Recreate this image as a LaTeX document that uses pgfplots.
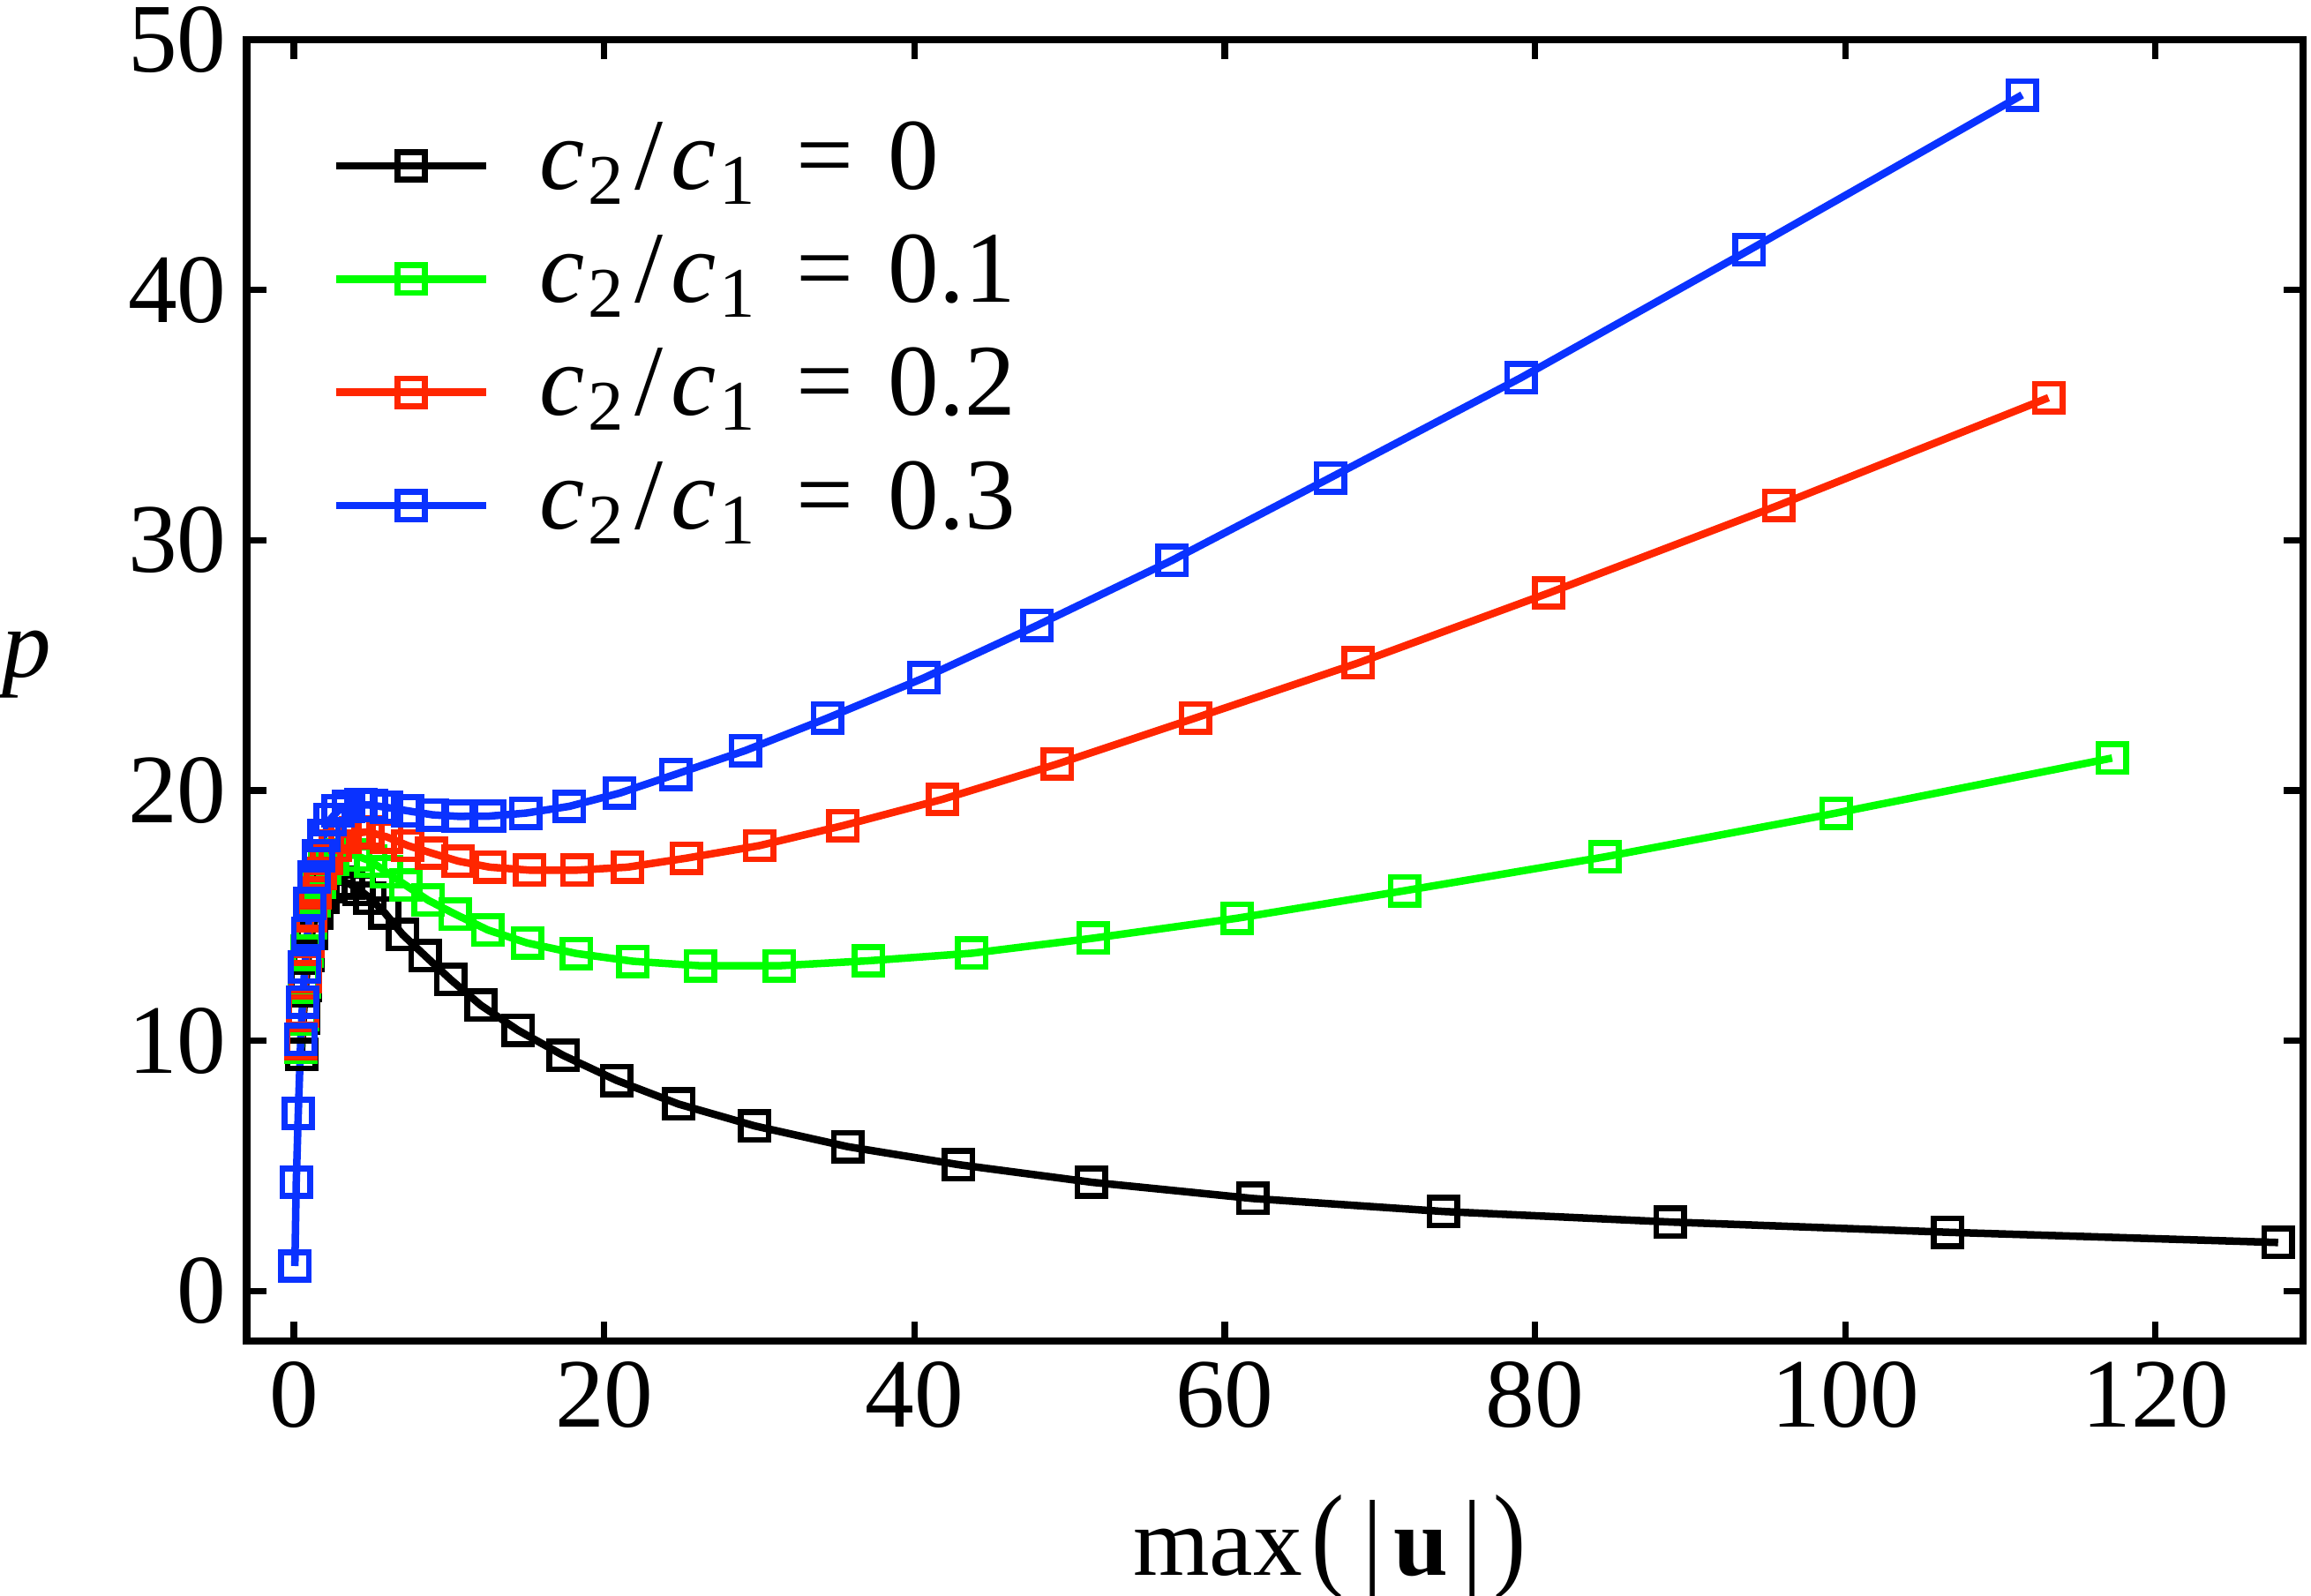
\documentclass[border=0pt]{standalone}
\usepackage{pgfplots}
\pgfplotsset{compat=1.18}
\usepackage{fontspec}
\setmainfont{Liberation Serif}
\definecolor{cgreen}{RGB}{0,255,0}
\definecolor{cred}{RGB}{255,38,0}
\definecolor{cblue}{RGB}{10,50,255}
\newcommand{\lab}[1]{\textit{c}\kern0.03em\textsubscript{2}\kern0.08em/\kern0.08em\textit{c}\kern0.03em\textsubscript{1}\hspace{0.38em}=\hspace{0.34em}#1}
\begin{document}
\begin{tikzpicture}
\begin{axis}[
  scale only axis,
  width=355.8pt, height=225.2pt,
  xmin=-3.04, xmax=129.5, ymin=-2, ymax=50,
  xtick={0,20,...,120}, ytick={0,10,...,50},
  tick align=inside,
  major tick length=3.4pt,
  every tick/.style={line width=1.1pt, black},
  axis line style={line width=1.3pt},
  /pgf/number format/assume math mode=true,
  tick label style={font=\fontsize{17}{20}\selectfont},
  label style={font=\fontsize{17}{20}\selectfont},
  xlabel={max\kern0.1em\scalebox{1}[1.18]{(}\kern0.18em\scalebox{1}[1.1]{|}\kern0.12em\textbf{u}\kern0.14em\scalebox{1}[1.1]{|}\kern0.12em\scalebox{1}[1.18]{)}},
  ylabel={\textit{p}},
  xlabel style={at={(axis description cs:0.5,0)}, anchor=base, yshift=-40.6pt, xshift=9.5pt},
  ylabel style={rotate=-90, at={(axis description cs:0,0.52)}, anchor=center, xshift=-38pt},
  every axis plot/.append style={line width=1.3pt, mark=square, mark size=2.4pt, mark options={solid, fill=white, line width=1pt}},
  legend style={at={(axis description cs:0,1)}, anchor=north west, xshift=14.6pt, yshift=-13.6pt,
    draw=none, fill=none, inner sep=0pt, row sep=3.6pt,
    font=\fontsize{17.6}{20}\selectfont,
    nodes={inner sep=0pt, text height=12pt, text depth=4pt}},
  legend cell align=left,
  legend image code/.code={\draw[mark repeat=2, mark phase=2] plot coordinates {(0pt,0pt) (13pt,0pt) (26pt,0pt)}; \path (34.6pt,0pt);},
]
\coordinate (nw) at (rel axis cs:0,1);
\coordinate (se) at (rel axis cs:1,0);
\addplot[black] coordinates {
(0.48,9.45)(0.6,10.9)(0.75,12.2)(0.93,13.4)(1.15,14.3)(1.45,15.1)(1.85,15.75)(2.35,16.15)(2.9,16.35)(3.5,16.3)
(4.2,16.05)(4.9,15.7)(5.85,15.12)(7.0,14.25)(8.45,13.4)(10.1,12.45)(12.05,11.42)(14.45,10.42)(17.35,9.42)(20.8,8.42)
(24.8,7.47)(29.7,6.6)(35.7,5.77)(42.85,5.05)(51.4,4.35)(61.8,3.7)(74.1,3.18)(88.7,2.76)(106.6,2.35)(127.9,1.94)};
\addlegendentry{\lab{0}}
\addplot[cgreen] coordinates {
(0.45,9.75)(0.55,11.05)(0.68,12.35)(0.85,13.6)(1.05,14.7)(1.3,15.6)(1.62,16.35)(2.0,16.9)(2.5,17.25)(3.15,17.42)
(3.95,17.42)(4.95,17.18)(5.94,16.75)(7.2,16.22)(8.65,15.62)(10.4,15.06)(12.5,14.43)(15.04,13.91)(18.2,13.49)(21.85,13.18)
(26.2,13.0)(31.3,13.0)(37.05,13.2)(43.7,13.5)(51.5,14.1)(60.8,14.9)(71.6,16.0)(84.5,17.35)(99.4,19.1)(117.2,21.3)};
\addlegendentry{\lab{0.1}}
\addplot[cred] coordinates {
(0.47,9.9)(0.58,11.2)(0.72,12.55)(0.9,13.96)(1.1,15.0)(1.38,15.9)(1.7,16.7)(2.1,17.3)(2.65,17.8)(3.3,18.12)
(3.95,18.3)(4.75,18.35)(5.98,18.15)(7.35,17.8)(8.89,17.5)(10.6,17.18)(12.63,16.94)(15.19,16.82)(18.23,16.82)(21.5,16.94)
(25.3,17.3)(30.0,17.8)(35.4,18.6)(41.8,19.65)(49.2,21.06)(58.1,22.9)(68.6,25.1)(80.9,27.9)(95.7,31.4)(113.1,35.7)};
\addlegendentry{\lab{0.2}}
\addplot[cblue] coordinates {
(0.06,1.0)(0.15,4.35)(0.28,7.1)(0.44,10.05)(0.56,11.55)(0.7,12.95)(0.88,14.3)(1.02,15.5)(1.28,16.55)(1.57,17.4)
(1.95,18.2)(2.35,18.85)(2.85,19.2)(3.5,19.38)(4.3,19.43)(5.0,19.42)(5.95,19.33)(7.35,19.19)(8.95,19.03)(10.6,18.97)
(12.6,18.98)(14.95,19.1)(17.75,19.37)(21.0,19.9)(24.6,20.65)(29.1,21.6)(34.4,22.9)(40.6,24.5)(47.9,26.6)(56.6,29.2)
(66.8,32.5)(79.1,36.5)(93.8,41.6)(111.4,47.8)};
\addlegendentry{\lab{0.3}}
\end{axis}
\pgfresetboundingbox
\useasboundingbox ([shift={(-42.7pt,6.9pt)}]nw) rectangle ([shift={(1.4pt,-44pt)}]se);
\end{tikzpicture}
\end{document}
